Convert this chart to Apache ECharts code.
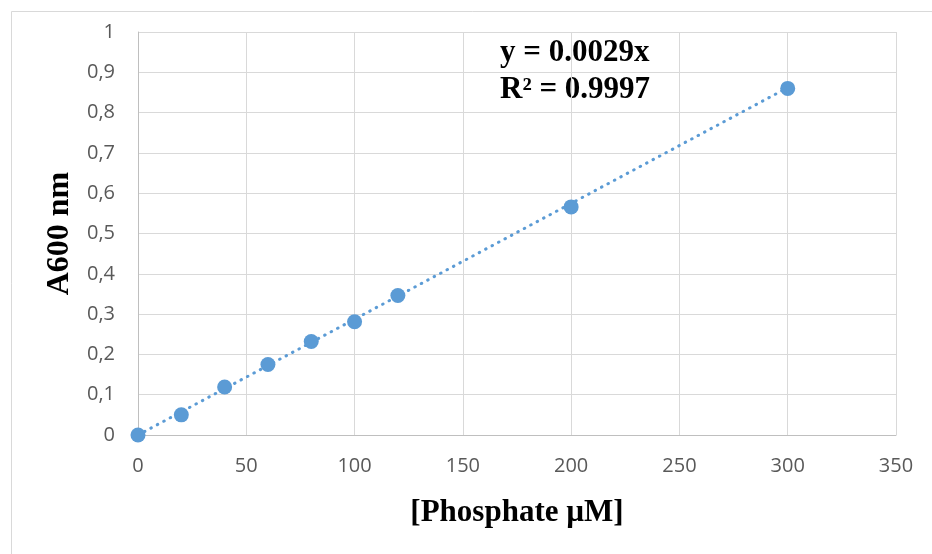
<!DOCTYPE html>
<html>
<head>
<meta charset="utf-8">
<script src="https://cdn.jsdelivr.net/npm/echarts@6/dist/echarts.min.js"></script>
<style>
  html, body { margin: 0; padding: 0; background: #fff; }
  #chart { width: 932px; height: 554px; }
</style>
</head>
<body>
<div id="chart"></div>
<script>
// measured points
var phosphate = [0, 20, 40, 60, 80, 100, 120, 200, 300];
var absorbance = [0, 0.05, 0.119, 0.175, 0.232, 0.281, 0.346, 0.566, 0.86];
// linear trendline
var trendX = [0, 300];
var trendY = [0, 0.862];
var yTickLabels = ["0", "0,1", "0,2", "0,3", "0,4", "0,5", "0,6", "0,7", "0,8", "0,9", "1"];
var equationLines = ["y = 0.0029x", "R\u00B2 = 0.9997"];

var chart = echarts.init(document.getElementById("chart"));

var points = phosphate.map(function (x, i) { return [x, absorbance[i]]; });
var trend = trendX.map(function (x, i) { return [x, trendY[i]]; });

var blue = "#5B9BD5";
var labelFont = "'Open Sans', 'Noto Sans', sans-serif";
var serif = "'Liberation Serif', 'DejaVu Serif', serif";

var option = {
  animation: false,
  backgroundColor: "#fff",
  grid: { left: 138, top: 32, right: 36, bottom: 119 },
  xAxis: {
    type: "value",
    min: 0,
    max: 350,
    interval: 50,
    name: "[Phosphate \u00B5M]",
    nameLocation: "middle",
    nameGap: 62,
    nameTextStyle: { fontFamily: serif, fontWeight: "bold", fontSize: 31, color: "#000" },
    axisLine: { show: true, lineStyle: { color: "#BFBFBF", width: 1 } },
    axisTick: { show: false },
    axisLabel: { color: "#595959", fontSize: 20, fontFamily: labelFont, margin: 21 },
    splitLine: { show: true, lineStyle: { color: "#D9D9D9", width: 1 } }
  },
  yAxis: {
    type: "value",
    min: 0,
    max: 1,
    interval: 0.1,
    name: "A600 nm",
    nameLocation: "middle",
    nameGap: 62,
    nameTextStyle: { fontFamily: serif, fontWeight: "bold", fontSize: 32, color: "#000" },
    axisLine: { show: true, lineStyle: { color: "#BFBFBF", width: 1 } },
    axisTick: { show: false },
    axisLabel: {
      color: "#595959",
      fontSize: 20,
      fontFamily: labelFont,
      margin: 23,
      formatter: function (v) { return yTickLabels[Math.round(v * 10)]; }
    },
    splitLine: { show: true, lineStyle: { color: "#D9D9D9", width: 1 } }
  },
  graphic: [
    {
      type: "rect",
      silent: true,
      shape: { x: 11.5, y: 11.5, width: 940, height: 560 },
      style: { fill: "none", stroke: "#D9D9D9", lineWidth: 1 }
    },
    {
      type: "text",
      left: 500,
      top: 34,
      style: {
        text: equationLines.join("\n"),
        font: "bold 31px " + serif,
        fill: "#000",
        lineHeight: 37
      }
    }
  ],
  series: [
    {
      name: "trend",
      type: "line",
      data: trend,
      showSymbol: false,
      silent: true,
      lineStyle: { color: blue, width: 3, type: [0.5, 6.8], cap: "round" },
      z: 2
    },
    {
      name: "A600",
      type: "scatter",
      data: points,
      symbol: "circle",
      symbolSize: 15,
      itemStyle: { color: blue, opacity: 1 },
      z: 3
    }
  ]
};

chart.setOption(option);
</script>
</body>
</html>
